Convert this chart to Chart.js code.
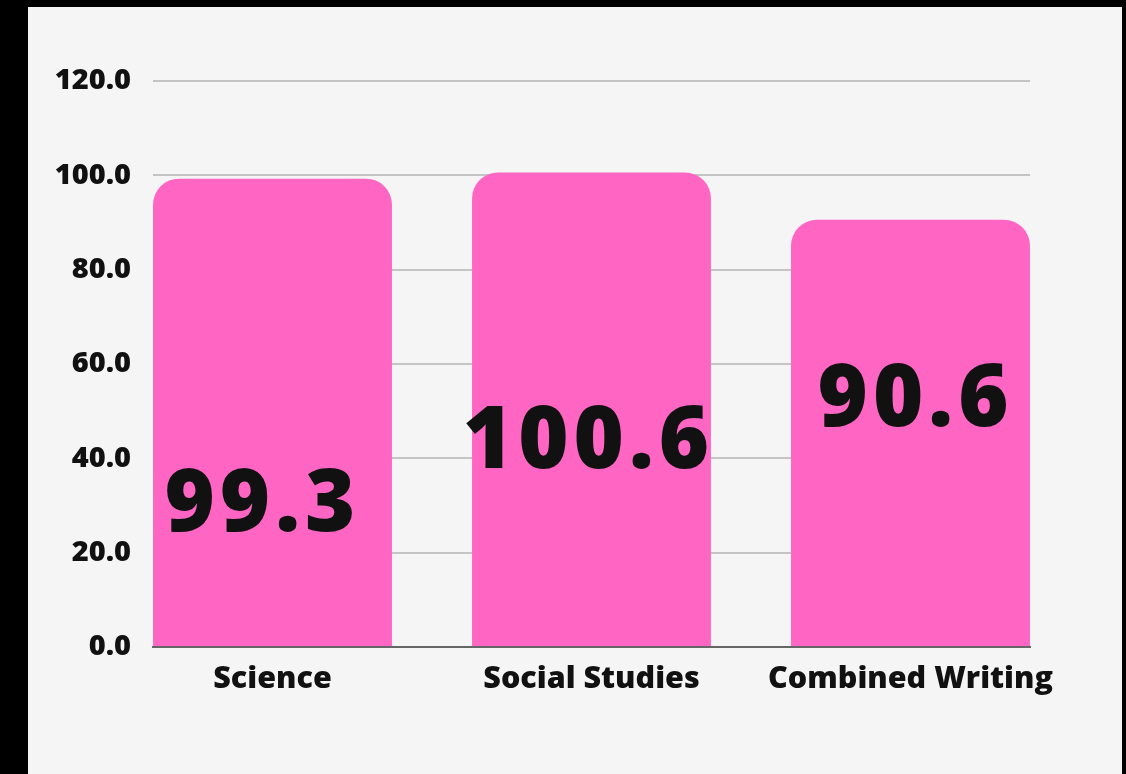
<!DOCTYPE html>
<html>
<head>
<meta charset="utf-8">
<script src="https://cdn.jsdelivr.net/npm/chart.js@4.4.1/dist/chart.umd.min.js"></script>
<style>
  html, body { margin: 0; padding: 0; background: #000; }
  #panel {
    position: absolute;
    left: 28px; top: 7px;
    width: 1094px; height: 767px;
    background: #f5f5f5;
  }
</style>
</head>
<body>
<div id="panel"><canvas id="barChart"></canvas></div>
<script>
// Chart data
const categories = ['Science', 'Social Studies', 'Combined Writing'];
const scores = [99.3, 100.6, 90.6];
const yTicks = [0, 20, 40, 60, 80, 100, 120];

const FONT = "'Open Sans', Lato, sans-serif";
const PINK = '#ff66c4';

// Big value labels sitting inside each bar
const valueLabels = {
    id: 'valueLabels',
    afterDatasetsDraw(chart, args, opts) {
        const { ctx } = chart;
        const meta = chart.getDatasetMeta(0);
        ctx.save();
        ctx.font = `800 ${opts.size}px ${FONT}`;
        ctx.letterSpacing = opts.spacing;
        ctx.fillStyle = '#111';
        ctx.textAlign = 'center';
        ctx.textBaseline = 'middle';
        meta.data.forEach((bar, i) => {
            const y = bar.base + (bar.y - bar.base) * opts.lift[i];
            ctx.fillText(scores[i].toFixed(1), bar.x + opts.shift[i], y);
        });
        ctx.restore();
    }
};

const ctx = document.getElementById('barChart');
new Chart(ctx.getContext('2d'), {
    type: 'bar',
    data: {
        datasets: [{
            data: scores.map((v, i) => ({ x: i, y: v })),
            backgroundColor: PINK,
            borderWidth: 0,
            borderRadius: { topLeft: 26, topRight: 26, bottomLeft: 0, bottomRight: 0 },
            borderSkipped: 'bottom',
            categoryPercentage: 1,
            barPercentage: 0.749
        }]
    },
    options: {
        responsive: true,
        maintainAspectRatio: false,
        animation: false,
        layout: { padding: { top: 74, right: 92, left: 0, bottom: 0 } },
        plugins: {
            legend: { display: false },
            tooltip: { enabled: false },
            valueLabels: {
                size: 86,
                spacing: '5px',
                lift: [0.299, 0.427, 0.573],
                shift: [-10, -3, 5]
            }
        },
        scales: {
            x: {
                type: 'linear',
                offset: false,
                min: -0.3746,
                max: 2.3746,
                afterBuildTicks(scale) {
                    scale.ticks = categories.map((_, i) => ({ value: i }));
                },
                afterFit(scale) { scale.height = 127; },
                grid: { display: false, offset: false },
                border: { display: true, color: '#666', width: 2 },
                ticks: {
                    autoSkip: false,
                    maxRotation: 0,
                    padding: 6,
                    color: '#111',
                    font: { family: FONT, size: 30.5, weight: '800' },
                    callback: (v) => categories[v]
                }
            },
            y: {
                min: 0,
                max: 120,
                afterBuildTicks(scale) {
                    scale.ticks = yTicks.map(v => ({ value: v }));
                },
                afterFit(scale) { scale.width = 125; },
                grid: { color: '#c4c4c4', lineWidth: 2, drawTicks: false },
                border: { display: false },
                ticks: {
                    padding: 22,
                    color: '#111',
                    font: { family: FONT, size: 29, weight: '800' },
                    callback: (v) => v.toFixed(1)
                }
            }
        }
    },
    plugins: [valueLabels]
});
</script>
</body>
</html>
